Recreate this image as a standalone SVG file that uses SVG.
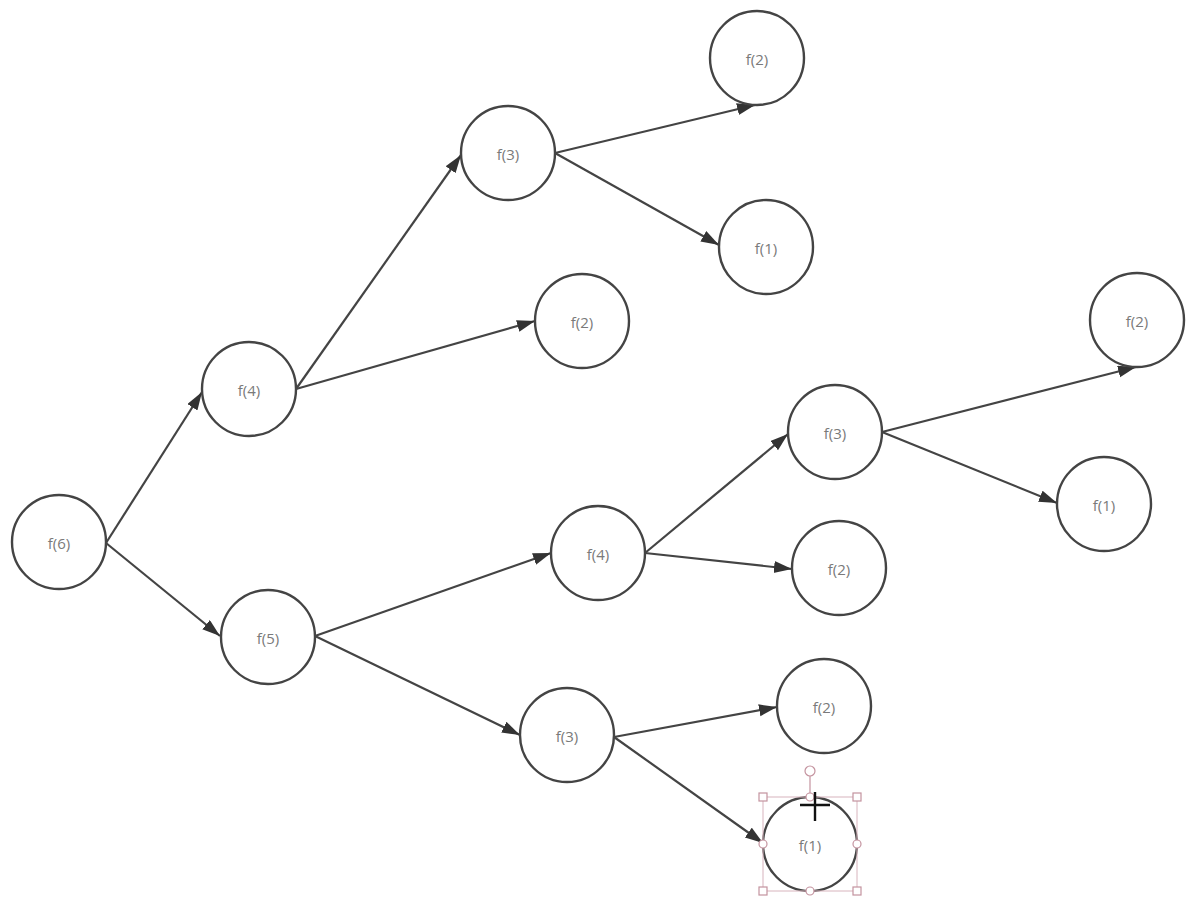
<svg xmlns="http://www.w3.org/2000/svg" width="1195" height="907" viewBox="0 0 1195 907">
<style>
.n circle{fill:#fff;stroke:#444;stroke-width:2.4}
.n text{font-family:"Open Sans","DejaVu Sans",sans-serif;font-size:15px;fill:#7a7a7a;text-anchor:middle;dominant-baseline:central}
.e line{stroke:#444;stroke-width:2.2;marker-end:url(#arr)}
.h{fill:#fff;stroke:#c4939f;stroke-width:1.2}
</style>
<defs>
<marker id="arr" markerUnits="userSpaceOnUse" markerWidth="20" markerHeight="14" refX="18" refY="6" orient="auto">
<path d="M0,0 L18,6 L0,12 z" fill="#333"/>
</marker>
</defs>
<rect width="1195" height="907" fill="#fff"/>
<g id="connectors" class="e">
<line x1="106" y1="543" x2="202" y2="392"/>
<line x1="106" y1="543" x2="220" y2="636"/>
<line x1="296" y1="389" x2="461" y2="155"/>
<line x1="296" y1="389" x2="535" y2="321"/>
<line x1="555" y1="153" x2="755" y2="105"/>
<line x1="555" y1="153" x2="719" y2="245"/>
<line x1="315" y1="636" x2="551" y2="553"/>
<line x1="315" y1="636" x2="520" y2="735"/>
<line x1="645" y1="553" x2="788" y2="434"/>
<line x1="645" y1="553" x2="792" y2="569"/>
<line x1="882" y1="432" x2="1136" y2="367"/>
<line x1="882" y1="432" x2="1057" y2="503"/>
<line x1="614" y1="737" x2="777" y2="707"/>
<line x1="614" y1="737" x2="763" y2="843"/>
</g>
<g id="n6" class="n"><circle cx="59" cy="542" r="47"/><text x="59" y="543">f(6)</text></g>
<g id="n4a" class="n"><circle cx="249" cy="389" r="47"/><text x="249" y="390">f(4)</text></g>
<g id="n5" class="n"><circle cx="268" cy="637" r="47"/><text x="268" y="638">f(5)</text></g>
<g id="n3a" class="n"><circle cx="508" cy="153" r="47"/><text x="508" y="154">f(3)</text></g>
<g id="n2a" class="n"><circle cx="757" cy="58" r="47"/><text x="757" y="59">f(2)</text></g>
<g id="n1a" class="n"><circle cx="766" cy="247" r="47"/><text x="766" y="248">f(1)</text></g>
<g id="n2b" class="n"><circle cx="582" cy="321" r="47"/><text x="582" y="322">f(2)</text></g>
<g id="n4b" class="n"><circle cx="598" cy="553" r="47"/><text x="598" y="554">f(4)</text></g>
<g id="n3b" class="n"><circle cx="835" cy="432" r="47"/><text x="835" y="433">f(3)</text></g>
<g id="n2c" class="n"><circle cx="1137" cy="320" r="47"/><text x="1137" y="321">f(2)</text></g>
<g id="n1b" class="n"><circle cx="1104" cy="504" r="47"/><text x="1104" y="505">f(1)</text></g>
<g id="n2d" class="n"><circle cx="839" cy="568" r="47"/><text x="839" y="569">f(2)</text></g>
<g id="n3c" class="n"><circle cx="567" cy="735" r="47"/><text x="567" y="736">f(3)</text></g>
<g id="n2e" class="n"><circle cx="824" cy="706" r="47"/><text x="824" y="707">f(2)</text></g>
<g id="n1c" class="n"><circle cx="810" cy="844" r="47"/><text x="810" y="845">f(1)</text></g>
<g id="selection">
<rect x="763" y="797" width="94" height="94" fill="none" stroke="#d8b4bd" stroke-width="1"/>
<line x1="810" y1="776" x2="810" y2="797" stroke="#c4939f" stroke-width="1.2"/>
<circle class="h" cx="810" cy="771" r="5"/>
<rect class="h" x="759" y="793" width="8" height="8"/>
<rect class="h" x="853" y="793" width="8" height="8"/>
<rect class="h" x="759" y="887" width="8" height="8"/>
<rect class="h" x="853" y="887" width="8" height="8"/>
<circle class="h" cx="810" cy="797" r="4"/>
<circle class="h" cx="810" cy="891" r="4"/>
<circle class="h" cx="763" cy="844" r="4"/>
<circle class="h" cx="857" cy="844" r="4"/>
<path d="M800,805 H830 M815,792 V821" stroke="#111" stroke-width="2.4" fill="none"/>
</g>
</svg>
